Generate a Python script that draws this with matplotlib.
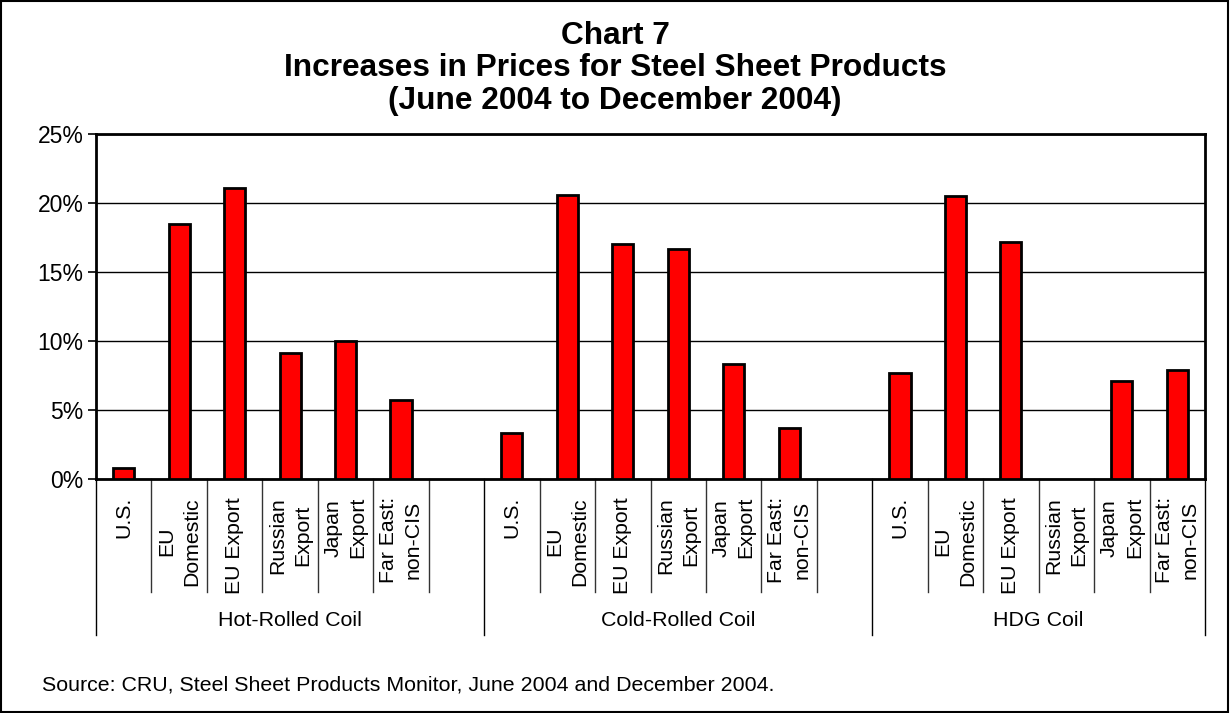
import numpy as np
import matplotlib.pyplot as plt
from matplotlib.patches import Rectangle
from matplotlib.ticker import PercentFormatter
import matplotlib.transforms as mtransforms

plt.rcParams['font.family'] = ['Liberation Sans', 'DejaVu Sans']

# data (percent increase)
products = ["U.S.", "EU\nDomestic", "EU Export", "Russian\nExport", "Japan\nExport", "Far East:\nnon-CIS"]
groups = ["Hot-Rolled Coil", "Cold-Rolled Coil", "HDG Coil"]
hot_rolled = [0.8, 18.5, 21.1, 9.1, 10.0, 5.7]
cold_rolled = [3.3, 20.6, 17.0, 16.7, 8.3, 3.7]
hdg_coil = [7.7, 20.5, 17.2, np.nan, 7.1, 7.9]
yticks = [0, 5, 10, 15, 20, 25]

# one empty slot after the first two groups
values = hot_rolled + [np.nan] + cold_rolled + [np.nan] + hdg_coil
labels = products + [""] + products + [""] + products
x = np.arange(len(values))

fig = plt.figure(figsize=(12.3, 7.13), dpi=100)
ax = fig.add_axes([96/1230, 1-479/713, (1205-96)/1230, (479-134)/713])

ax.bar(x, values, width=0.38, color="#ff0000", edgecolor="black", linewidth=2, zorder=3)

ax.set_xlim(-0.5, len(values)-0.5)
ax.set_ylim(0, 25)
ax.set_yticks(yticks)
ax.yaxis.set_major_formatter(PercentFormatter(decimals=0))
ax.grid(axis="y", color="black", linewidth=1.0, zorder=1)
ax.tick_params(axis="y", direction="out", length=6, width=1.2, pad=3, labelsize=16.5)
for s in ax.spines.values():
    s.set_linewidth(2)
    s.set_color("black")

ax.set_xticks(x)
ax.set_xticklabels(labels, rotation=90, fontsize=15.3, va="top", ha="center",
                   multialignment="center", linespacing=1.4)
ax.tick_params(axis="x", length=0, pad=13)

# separators under the axis
trans = mtransforms.blended_transform_factory(ax.transData, ax.transAxes)
group_edges = [-0.5, 6.5, 13.5, len(values)-0.5]
for b in np.arange(-0.5, len(values), 1.0):
    if b in group_edges:
        ax.plot([b, b], [0, -0.452], transform=trans, color="black", lw=1, clip_on=False)
    else:
        ax.plot([b, b], [0, -0.327], transform=trans, color="#333333", lw=1, clip_on=False)

centers = [(group_edges[i] + group_edges[i+1]) / 2 for i in range(3)]
for c, g in zip(centers, groups):
    ax.text(c, -0.41, g, transform=trans, ha="center", va="center", fontsize=15.4)

fig.text(0.5, 1-21/713, "Chart 7\nIncreases in Prices for Steel Sheet Products\n(June 2004 to December 2004)",
         ha="center", va="top", fontsize=22.8, fontweight="bold", linespacing=1.1)

fig.text(42/1230, 1-685/713, "Source: CRU, Steel Sheet Products Monitor, June 2004 and December 2004.",
         ha="left", va="center", fontsize=15.4)

fig.patches.append(Rectangle((0.001, 0.002), 0.997, 0.996, transform=fig.transFigure,
                             fill=False, edgecolor="black", linewidth=1.5))

fig.savefig("out.png", dpi=100)
